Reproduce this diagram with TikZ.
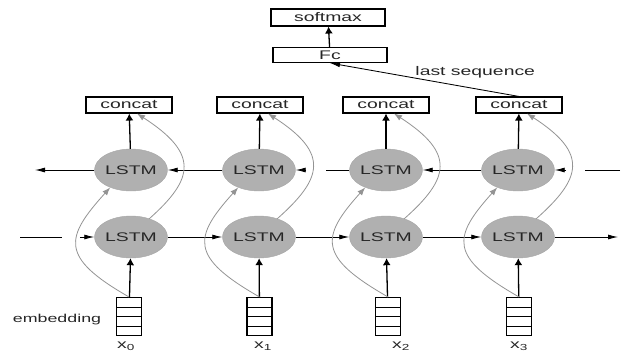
\documentclass[tikz,border=0pt]{standalone}
\usepackage{fontspec}
\setmainfont{Liberation Sans}[FakeStretch=1.55]
\usepackage{tikz}
\usetikzlibrary{shapes.geometric,arrows.meta}

\tikzset{
  box/.style={draw, line width=1.1pt, minimum width=86pt, minimum height=16pt, inner sep=0pt},
  cell/.style={ellipse, fill=gray!62, draw=gray!70, line width=0.4pt, minimum width=68pt, minimum height=42pt, inner sep=0pt},
  emb/.style={draw, line width=1.1pt, minimum width=25pt, minimum height=38pt, inner sep=0pt,
    path picture={
      \draw[line width=0.8pt] ([yshift=-9.5pt]path picture bounding box.north west) -- ([yshift=-9.5pt]path picture bounding box.north east);
      \draw[line width=1.5pt] (path picture bounding box.west) -- (path picture bounding box.east);
      \draw[line width=0.8pt] ([yshift=9.5pt]path picture bounding box.south west) -- ([yshift=9.5pt]path picture bounding box.south east);
    }},
  hline/.style={line width=0.85pt},
  harr/.style={line width=0.85pt, -{Latex[length=10pt,width=5pt]}},
  varr/.style={line width=1.3pt, -{Latex[length=7pt,width=8pt]}},
  skip/.style={gray!85, line width=0.8pt, -{Latex[length=8pt,width=6pt]}},
}

\begin{document}
\begin{tikzpicture}[x=1pt, y=-1pt, font=\fontsize{12.5}{15}\selectfont, text=black!85]

    \useasboundingbox (0,0) rectangle (621,354);

    % output part
    \node[box, minimum width=114pt, minimum height=17pt] (sm) at (328,17.5) {softmax};
    \node[box, minimum width=114pt, minimum height=15pt] (fc) at (330,55) {Fc};

    \node[box] (cc1) at (129,105) {concat};
    \node[box] (cc2) at (260,105) {concat};
    \node[box] (cc3) at (386,105) {concat};
    \node[box] (cc4) at (519,105) {concat};

    % backward and forward LSTM rows
    \node[cell] (up1) at (131,170) {LSTM};
    \node[cell] (up2) at (259,170) {LSTM};
    \node[cell] (up3) at (386,170) {LSTM};
    \node[cell] (up4) at (518,170) {LSTM};

    \node[cell] (lo1) at (131,237) {LSTM};
    \node[cell] (lo2) at (259,237) {LSTM};
    \node[cell] (lo3) at (386,237) {LSTM};
    \node[cell] (lo4) at (518,237) {LSTM};

    % inputs
    \node[emb] (em1) at (129,316.5) {};
    \node[emb] (em2) at (259.5,316.5) {};
    \node[emb] (em3) at (388,316.5) {};
    \node[emb] (em4) at (519,316.5) {};

    \node[font=\fontsize{11.5}{14}\selectfont] (emlab) at (57,320) {embedding};
    \node (x0) at (126,346) {x\textsubscript{0}};
    \node (x1) at (263,346) {x\textsubscript{1}};
    \node (x2) at (401,346) {x\textsubscript{2}};
    \node (x3) at (519,346) {x\textsubscript{3}};

    \coordinate (rin) at (620,170);
    \coordinate (rgap) at (585,170);
    \coordinate (rgap2) at (566,170);
    \coordinate (mgap) at (326,170);
    \coordinate (mgap2) at (306,170);
    \coordinate (lout) at (35,170);
    \coordinate (lin) at (20,237);
    \coordinate (lgap) at (62,237);
    \coordinate (lgap2) at (80,237);
    \coordinate (rout) at (618,237);

    % upper row runs right to left
    \draw[hline] (rin) -- (rgap);
    \draw[harr] (rgap2) -- (up4);
    \draw[harr] (up4) -- (up3);
    \draw[hline] (up3) -- (mgap);
    \draw[harr] (mgap2) -- (up2);
    \draw[harr] (up2) -- (up1);
    \draw[harr] (up1) -- (lout);

    % lower row runs left to right
    \draw[hline] (lin) -- (lgap);
    \draw[harr] (lgap2) -- (lo1);
    \draw[harr] (lo1) -- (lo2);
    \draw[harr] (lo2) -- (lo3);
    \draw[harr] (lo3) -- (lo4);
    \draw[harr] (lo4) -- (rout);

    \draw[varr] (em1) -- (lo1);
    \draw[varr] (em2) -- (lo2);
    \draw[varr] (em3) -- (lo3);
    \draw[varr] (em4) -- (lo4);

    \draw[varr] (up1) -- (cc1);
    \draw[varr] (up2) -- (cc2);
    \draw[varr] (up3) -- (cc3);
    \draw[varr] (up4) -- (cc4);

    % skip curves
    \draw[skip] (lo1.45) .. controls +(45,-40) and +(62,40) .. ([xshift=8pt]cc1.south);
    \draw[skip] (lo2.45) .. controls +(45,-40) and +(62,40) .. ([xshift=8pt]cc2.south);
    \draw[skip] (lo3.45) .. controls +(45,-40) and +(62,40) .. ([xshift=8pt]cc3.south);
    \draw[skip] (lo4.45) .. controls +(45,-40) and +(62,40) .. ([xshift=8pt]cc4.south);

    \draw[skip] (em1.north) .. controls +(-70,-40) and +(-45,50) .. (up1.220);
    \draw[skip] (em2.north) .. controls +(-70,-40) and +(-45,50) .. (up2.220);
    \draw[skip] (em3.north) .. controls +(-70,-40) and +(-45,50) .. (up3.220);
    \draw[skip] (em4.north) .. controls +(-70,-40) and +(-45,50) .. (up4.220);

    \draw[varr] (fc) -- (sm);
    \draw[harr] (cc4.north) -- (fc.south) node[pos=0.55, above right, inner sep=0pt] {last sequence};

\end{tikzpicture}
\end{document}
